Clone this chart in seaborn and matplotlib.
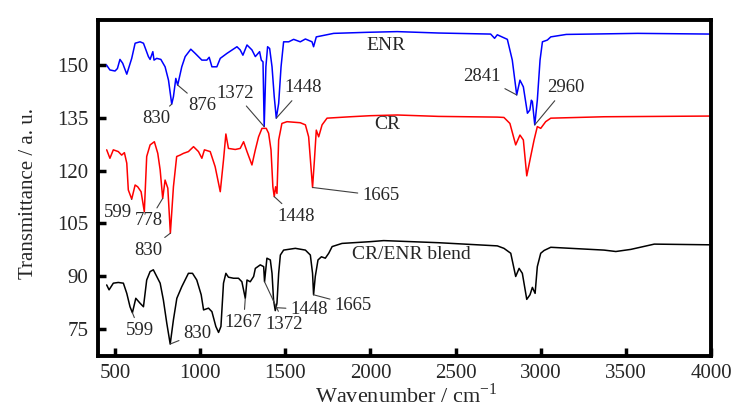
import numpy as np
import pandas as pd
import matplotlib
matplotlib.use("Agg")
import matplotlib.pyplot as plt
import seaborn as sns

# ---------------- data ----------------
wn_enr = [450, 470, 500, 514, 529, 545, 569, 598, 618, 647, 667, 696, 706, 722, 729, 745,
          769, 794, 814, 833, 843, 857, 868, 892, 912, 945, 971, 1010, 1039, 1053, 1069,
          1098, 1118, 1157, 1216, 1235, 1251, 1275, 1304, 1324, 1349, 1359, 1369, 1376,
          1386, 1396, 1408, 1422, 1435, 1447, 1461, 1475, 1490, 1520, 1549, 1588, 1618,
          1657, 1666, 1682, 1784, 1980, 2157, 2400, 2706, 2729, 2745, 2804, 2833, 2859,
          2878, 2898, 2922, 2936, 2945, 2951, 2965, 2980, 2996, 3010, 3039, 3059, 3150,
          3569, 4000]
tr_enr = [150.0, 148.6, 148.3, 149.0, 151.6, 150.5, 147.4, 151.9, 156.2, 156.6, 156.2,
          152.4, 151.6, 153.8, 151.4, 151.9, 151.6, 149.5, 145.7, 138.9, 141.0, 146.2,
          144.3, 149.5, 152.4, 154.5, 153.3, 151.4, 151.4, 152.2, 149.5, 149.5, 151.9,
          153.3, 155.2, 154.3, 152.8, 155.7, 154.3, 152.4, 153.8, 151.4, 150.9, 132.5,
          149.5, 155.2, 154.7, 149.5, 141.0, 134.9, 139.1, 149.5, 156.6, 156.6, 157.3,
          156.6, 157.4, 156.6, 155.2, 158.0, 159.0, 159.3, 159.5, 159.1, 158.8, 157.6,
          158.6, 157.3, 151.4, 141.5, 145.7, 143.8, 136.3, 137.2, 140.0, 139.6, 133.0,
          140.0, 151.4, 156.6, 157.1, 158.0, 158.7, 159.0, 158.8]

wn_cr = [451, 470, 490, 519, 539, 555, 569, 578, 598, 618, 633, 653, 672, 686, 706, 731,
         751, 765, 780, 794, 810, 825, 843, 862, 882, 902, 931, 961, 990, 1010, 1025, 1059,
         1088, 1118, 1137, 1151, 1166, 1206, 1235, 1255, 1275, 1304, 1324, 1343, 1363,
         1388, 1402, 1416, 1427, 1435, 1443, 1451, 1461, 1480, 1510, 1588, 1618, 1637,
         1660, 1671, 1682, 1696, 1716, 1745, 1882, 2000, 2157, 2400, 2745, 2784, 2819,
         2853, 2878, 2898, 2918, 2941, 2961, 2980, 3000, 3029, 3059, 3372, 4000]
tr_cr = [125.9, 123.5, 125.9, 125.4, 124.4, 125.1, 122.1, 114.5, 111.9, 115.9, 115.4,
         114.0, 108.3, 124.0, 127.3, 128.2, 124.9, 120.2, 112.1, 117.3, 115.0, 102.2,
         115.4, 124.0, 124.4, 124.9, 125.4, 126.8, 125.4, 123.5, 125.9, 125.4, 121.1,
         114.0, 123.0, 130.4, 126.3, 126.0, 126.3, 128.2, 125.4, 121.6, 125.9, 129.6,
         132.0, 132.0, 130.6, 125.9, 115.4, 112.6, 115.4, 113.5, 128.7, 133.4, 133.9,
         133.6, 133.0, 129.6, 115.2, 123.0, 131.5, 129.6, 133.0, 134.9, 135.3, 135.6,
         135.8, 135.4, 135.2, 135.1, 133.4, 127.3, 130.1, 128.7, 118.5, 124.0, 128.7,
         132.5, 132.0, 133.9, 134.9, 135.3, 135.5]

wn_bl = [451, 465, 490, 519, 549, 569, 588, 602, 622, 647, 667, 686, 706, 725, 745, 765,
         784, 804, 824, 843, 863, 892, 931, 955, 980, 1006, 1020, 1049, 1069, 1092, 1108,
         1122, 1137, 1151, 1166, 1196, 1225, 1245, 1265, 1275, 1294, 1314, 1324, 1353,
         1373, 1378, 1392, 1412, 1422, 1431, 1441, 1451, 1461, 1471, 1490, 1559, 1618,
         1647, 1660, 1666, 1676, 1692, 1712, 1735, 1755, 1775, 1833, 2000, 2078, 2400,
         2745, 2784, 2824, 2853, 2873, 2892, 2918, 2937, 2951, 2967, 2980, 3000, 3020,
         3059, 3372, 3441, 3529, 3667, 4000]
tr_bl = [87.5, 86.1, 88.0, 88.2, 88.0, 85.1, 81.3, 79.6, 83.7, 82.3, 81.3, 88.9, 91.3,
         91.8, 89.9, 88.0, 83.2, 76.6, 70.7, 77.6, 83.7, 87.0, 90.8, 90.8, 88.9, 84.7,
         80.4, 80.9, 79.9, 75.7, 74.0, 75.7, 88.0, 90.8, 89.7, 89.4, 89.4, 88.4, 83.7,
         88.9, 88.4, 89.9, 92.2, 93.2, 92.7, 88.4, 95.1, 94.6, 90.8, 83.2, 80.2, 82.3,
         90.8, 96.0, 97.4, 97.9, 97.4, 96.0, 90.8, 84.7, 89.9, 94.6, 95.5, 95.1, 96.5,
         98.4, 99.3, 99.8, 100.1, 99.5, 98.6, 97.9, 96.5, 89.9, 92.2, 90.8, 83.4, 84.7,
         86.8, 85.1, 92.7, 96.5, 97.3, 98.2, 97.4, 97.0, 97.6, 99.1, 98.9]

series_names = ["ENR", "CR", "CR/ENR blend"]
series_colors = ["#0000ff", "#ff0000", "#000000"]

x_ticks = [500, 1000, 1500, 2000, 2500, 3000, 3500, 4000]
y_ticks = [75, 90, 105, 120, 135, 150]

# peak labels: (series, label, pointer wavenumber, text x, text y)
peak_labels = [
    ("ENR", "830", 833, 741, 134.7),
    ("ENR", "876", 868, 1012, 138.4),
    ("ENR", "1372", 1376, 1206, 142.0),
    ("ENR", "1448", 1447, 1606, 143.5),
    ("ENR", "2841", 2859, 2653, 146.8),
    ("ENR", "2960", 2965, 3145, 143.5),
    ("CR", "599", 598, 519, 108.2),
    ("CR", "778", 780, 700, 105.7),
    ("CR", "830", 825, 694, 97.4),
    ("CR", "1448", 1435, 1561, 107.0),
    ("CR", "1665", 1660, 2062, 112.8),
    ("CR/ENR blend", "599", 602, 644, 74.5),
    ("CR/ENR blend", "830", 824, 985, 73.8),
    ("CR/ENR blend", "1267", 1265, 1255, 76.8),
    ("CR/ENR blend", "1372", 1378, 1495, 76.3),
    ("CR/ENR blend", "1448", 1445, 1641, 80.5),
    ("CR/ENR blend", "1665", 1666, 1899, 81.7),
]
# series name labels: (text, x, y)
name_labels = [("ENR", 2093, 155.5), ("CR", 2100, 133.0), ("CR/ENR blend", 2243, 96.2)]

# ---------------- build frame ----------------
frames = []
for name, wn, tr in zip(series_names, [wn_enr, wn_cr, wn_bl], [tr_enr, tr_cr, tr_bl]):
    frames.append(pd.DataFrame({"wn": wn, "tr": tr, "sample": name}))
df = pd.concat(frames, ignore_index=True)

sns.set_theme(style="ticks")
plt.rcParams["font.family"] = ["Liberation Serif", "DejaVu Serif"]
plt.rcParams["mathtext.fontset"] = "custom"
plt.rcParams["mathtext.rm"] = "Liberation Serif"

fig = plt.figure(figsize=(7.56, 4.11), dpi=100)
ax = fig.add_axes([98 / 756, 1 - 356 / 411, 613 / 756, 336 / 411])

sns.lineplot(data=df, x="wn", y="tr", hue="sample", palette=dict(zip(series_names, series_colors)),
             hue_order=series_names, sort=False, estimator=None, linewidth=1.1, legend=False, ax=ax)

ax.set_xlim(400, 4000)
ax.set_ylim(67.3, 162.8)
ax.set_xticks(x_ticks)
ax.set_yticks(y_ticks)
ax.tick_params(direction="in", length=6, width=2.5, labelsize=15, pad=7, color="black")
ax.tick_params(axis="x", pad=6)
for sp in ax.spines.values():
    sp.set_linewidth(2.8)
    sp.set_color("black")
    sp.set_visible(True)

ax.set_xlabel("Wavenumber / cm$^{-1}$", fontsize=16)
ax.set_ylabel("Transmittance / a. u.", fontsize=15)
ax.xaxis.set_label_coords(0.502, -0.08)
ax.yaxis.set_label_coords(-0.098, 0.485)

lookup = {n: (np.array(w), np.array(t)) for n, w, t in
          zip(series_names, [wn_enr, wn_cr, wn_bl], [tr_enr, tr_cr, tr_bl])}
for name, lab, pw, tx, ty in peak_labels:
    w, t = lookup[name]
    py = np.interp(pw, w, t)
    ax.annotate(lab, xy=(pw, py), xytext=(tx, ty), fontsize=13.5, ha="center", va="center",
                arrowprops=dict(arrowstyle="-", color="0.25", lw=0.8, shrinkA=1, shrinkB=0))
for lab, tx, ty in name_labels:
    ax.text(tx, ty, lab, fontsize=14, ha="center", va="center")

fig.savefig("out.png", dpi=100)
